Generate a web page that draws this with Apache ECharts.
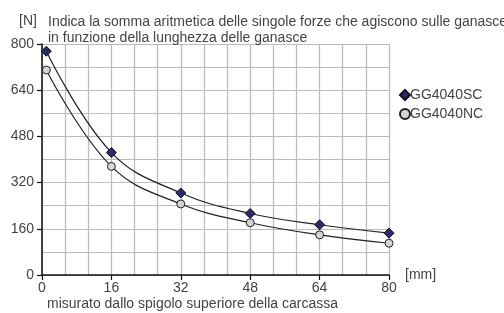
<!DOCTYPE html>
<html>
<head>
    <meta charset="utf-8">
    <script src="https://cdn.jsdelivr.net/npm/echarts@6/dist/echarts.min.js"></script>
    <style>
        body { margin: 0; background: #fff; }
    </style>
</head>
<body>
<div id="main" style="width: 504px;height:313px;"></div>
<script type="text/javascript">
    // posizioni lungo le ganasce [mm]
    var posizioni = [1, 16, 32, 48, 64, 80];
    // forze [N]
    var forzaSC = [775, 424, 284, 213, 174, 145];
    var forzaNC = [710, 376, 246, 181, 139, 110];
    var nomiSerie = ['GG4040SC', 'GG4040NC'];

    var myChart = echarts.init(document.getElementById('main'));
    var font = 'Liberation Sans, Arial, sans-serif';
    var grigio = '#444';

    function coppie(xs, ys) {
        return xs.map(function (x, i) { return [x, ys[i]]; });
    }

    option = {
        animation: false,
        textStyle: { fontFamily: font },
        title: [{
            text: '[N]',
            left: 14, top: 9,
            textStyle: { fontSize: 14, fontWeight: 'normal', color: grigio, fontFamily: font }
        }, {
            text: 'Indica la somma aritmetica delle singole forze che agiscono sulle ganasce\nin funzione della lunghezza delle ganasce',
            left: 43, top: 9,
            textStyle: { fontSize: 14, fontWeight: 'normal', color: grigio, lineHeight: 16, fontFamily: font }
        }],
        legend: {
            orient: 'vertical',
            left: 394, top: 82,
            itemWidth: 10, itemHeight: 10, itemGap: 3,
            textStyle: { fontSize: 14, color: grigio, padding: [0, 0, 0, -5], lineHeight: 16 },
            data: [
                { name: nomiSerie[0], icon: 'diamond' },
                { name: nomiSerie[1], icon: 'circle' }
            ]
        },
        grid: { left: 42, right: 115, top: 44, bottom: 38 },
        xAxis: {
            type: 'value',
            min: 0, max: 80, interval: 16,
            name: '[mm]',
            nameLocation: 'end',
            nameGap: 16,
            nameTextStyle: { fontSize: 14, color: grigio, verticalAlign: 'middle', padding: [0, 0, -1, 0] },
            axisLine: { onZero: false, lineStyle: { color: '#111', width: 1.5 } },
            axisTick: { show: true, length: 5, lineStyle: { color: '#111', width: 1.2 } },
            axisLabel: { fontSize: 14, color: grigio, margin: 6 },
            splitLine: { show: true, lineStyle: { color: '#bbb', width: 1.2 } },
            minorTick: { show: false, splitNumber: 3 },
            minorSplitLine: { show: true, lineStyle: { color: '#bbb', width: 1.2 } }
        },
        yAxis: {
            type: 'value',
            min: 0, max: 800, interval: 160,
            axisLine: { show: true, lineStyle: { color: '#111', width: 1.5 } },
            axisTick: { show: true, length: 5, lineStyle: { color: '#111', width: 1.2 } },
            axisLabel: { fontSize: 14, color: grigio, margin: 8 },
            splitLine: { show: true, lineStyle: { color: '#bbb', width: 1.2 } },
            minorTick: { show: false, splitNumber: 2 },
            minorSplitLine: { show: true, lineStyle: { color: '#bbb', width: 1.2 } }
        },
        graphic: [{
            type: 'text',
            left: 47, top: 297,
            style: { text: 'misurato dallo spigolo superiore della carcassa', fontSize: 14, fill: grigio, fontFamily: font }
        }],
        series: [{
            name: nomiSerie[0],
            type: 'line',
            smooth: 0.4,
            data: coppie(posizioni, forzaSC),
            symbol: 'diamond',
            symbolSize: 10,
            lineStyle: { color: '#222', width: 1.2 },
            itemStyle: { color: '#2b2a6e', borderColor: '#111', borderWidth: 1 },
            z: 3
        }, {
            name: nomiSerie[1],
            type: 'line',
            smooth: 0.4,
            data: coppie(posizioni, forzaNC),
            symbol: 'circle',
            symbolSize: 8,
            lineStyle: { color: '#222', width: 1.2 },
            itemStyle: { color: '#d4d4d8', borderColor: '#222', borderWidth: 1 },
            z: 3
        }]
    };

    myChart.setOption(option);
</script>
</body>
</html>
